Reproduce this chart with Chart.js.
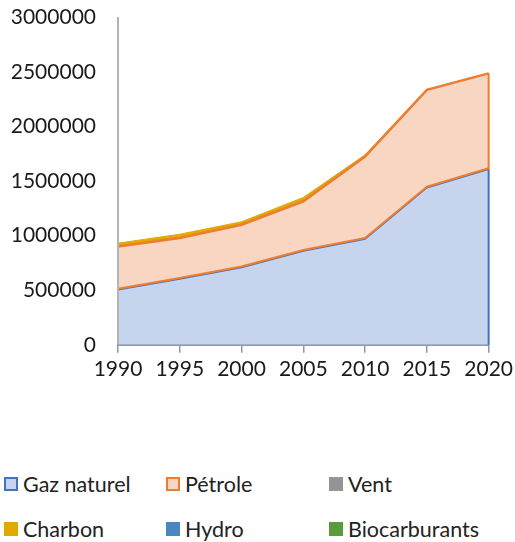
<!DOCTYPE html>
<html>
<head>
<meta charset="utf-8">
<script src="https://cdn.jsdelivr.net/npm/chart.js@4.4.1/dist/chart.umd.min.js"></script>
<style>
  body { margin: 0; background: #fff; font-family: Lato, sans-serif; overflow: hidden; }
  #wrap { position: relative; width: 515px; height: 542px; overflow: hidden; }
  #box { position: absolute; left: 0; top: -17px; width: 517px; height: 417px; }
  .leg { position: absolute; font-size: 21.5px; color: #222; line-height: 22px; white-space: nowrap; }
  .leg span { position: absolute; left: 0; top: 4px; width: 14px; height: 14px; box-sizing: border-box; }
  .leg b { font-weight: normal; position: absolute; left: 19px; top: 0; }
</style>
</head>
<body>
<div id="wrap">
  <div id="box"><canvas id="graf"></canvas></div>
  <div id="legende"></div>
</div>
<script>
const annees = ["1990", "1995", "2000", "2005", "2010", "2015", "2020"];

const gazNaturel    = [505000, 603000, 709000, 860000, 970000, 1440000, 1610000];
const petrole       = [397000, 376000, 392000, 455000, 757000, 897000, 879000];
const vent          = [0, 0, 0, 0, 0, 0, 0];
const charbon       = [30000, 35000, 27000, 36000, 15000, 4000, 2000];
const hydro         = [0, 0, 0, 0, 0, 0, 0];
const biocarburants = [0, 0, 0, 0, 0, 0, 0];

const ticksY = [0, 500000, 1000000, 1500000, 2000000, 2500000, 3000000];

const series = [
    { nom: "Gaz naturel",   data: gazNaturel,    fond: "#c6d4ed", trait: "#4472c4", ep: 1.5 },
    { nom: "Pétrole",       data: petrole,       fond: "#f9d6c2", trait: "#ed7d31", ep: 2.5 },
    { nom: "Vent",          data: vent,          fond: "#949494", trait: "#949494", ep: 0 },
    { nom: "Charbon",       data: charbon,       fond: "#e2a900", trait: "#e2a900", ep: 1 },
    { nom: "Hydro",         data: hydro,         fond: "#4a86bf", trait: "#4a86bf", ep: 0 },
    { nom: "Biocarburants", data: biocarburants, fond: "#5b9a3c", trait: "#5b9a3c", ep: 0 }
];

// bords des aires (comme Excel : contour orange du pétrole aussi en bas)
const bordsAires = {
    id: "bordsAires",
    afterDatasetsDraw(chart) {
        const ctx = chart.ctx;
        const y = chart.scales.y;
        const gaz = chart.getDatasetMeta(0).data;
        ctx.save();
        ctx.strokeStyle = series[1].trait;
        ctx.lineWidth = 2;
        ctx.lineJoin = "round";
        ctx.beginPath();
        gaz.forEach((p, j) => j === 0 ? ctx.moveTo(p.x, p.y - 1) : ctx.lineTo(p.x, p.y - 1));
        ctx.stroke();
        ctx.restore();
        [0, 1].forEach(i => {
            const meta = chart.getDatasetMeta(i);
            const bas = i === 0 ? null : chart.getDatasetMeta(i - 1);
            [0, meta.data.length - 1].forEach(j => {
                const p = meta.data[j];
                const yBas = bas ? bas.data[j].y : y.getPixelForValue(0);
                ctx.save();
                ctx.strokeStyle = series[i].trait;
                ctx.lineWidth = 2;
                ctx.beginPath();
                ctx.moveTo(p.x, p.y);
                ctx.lineTo(p.x, yBas);
                ctx.stroke();
                ctx.restore();
            });
        });
        // axe Y par-dessus
        ctx.save();
        ctx.strokeStyle = "#b4b4b4";
        ctx.lineWidth = 2;
        ctx.beginPath();
        ctx.moveTo(chart.chartArea.left, chart.chartArea.top);
        ctx.lineTo(chart.chartArea.left, chart.chartArea.bottom);
        ctx.stroke();
        ctx.restore();
    }
};

new Chart(document.getElementById("graf"), {
    type: "line",
    data: {
        labels: annees,
        datasets: series.map((s, i) => ({
            label: s.nom,
            data: s.data,
            backgroundColor: s.fond,
            borderColor: s.trait,
            borderWidth: s.ep,
            fill: i === 0 ? "origin" : "-1",
            pointRadius: 0,
            tension: 0
        }))
    },
    options: {
        responsive: true,
        maintainAspectRatio: false,
        animation: false,
        layout: { padding: { left: 9, top: 0, right: 0, bottom: 14 } },
        plugins: { legend: { display: false }, tooltip: { enabled: false } },
        scales: {
            x: {
                offset: false,
                grid: { display: true, drawOnChartArea: false, drawTicks: true, tickLength: 8, color: "#8c97ad", lineWidth: 1.5 },
                border: { display: true, color: "#8c97ad", width: 2 },
                ticks: { color: "#1a1a1a", font: { family: "Lato", size: 21 }, padding: 4, maxRotation: 0 }
            },
            y: {
                stacked: true,
                min: 0,
                max: 3000000,
                grid: { display: false, drawTicks: false },
                border: { display: true, color: "#b4b4b4", width: 2 },
                afterBuildTicks(axis) { axis.ticks = ticksY.map(v => ({ value: v })); },
                afterFit(axis) { axis.width = 109; },
                ticks: {
                    color: "#1a1a1a", font: { family: "Lato", size: 21 }, padding: 22,
                    callback: v => String(v)
                }
            }
        }
    },
    plugins: [bordsAires]
});

// légende en HTML (2 lignes x 3 colonnes)
const colX = [4, 166, 329];
const rowY = [473, 518];
const leg = document.getElementById("legende");
series.forEach((s, i) => {
    const d = document.createElement("div");
    d.className = "leg";
    d.style.left = colX[i % 3] + "px";
    d.style.top = rowY[Math.floor(i / 3)] + "px";
    const carre = i < 2
        ? `background:${s.fond};border:2px solid ${s.trait};`
        : `background:${s.fond};`;
    d.innerHTML = `<span style="${carre}"></span><b>${s.nom}</b>`;
    leg.appendChild(d);
});
</script>
</body>
</html>
